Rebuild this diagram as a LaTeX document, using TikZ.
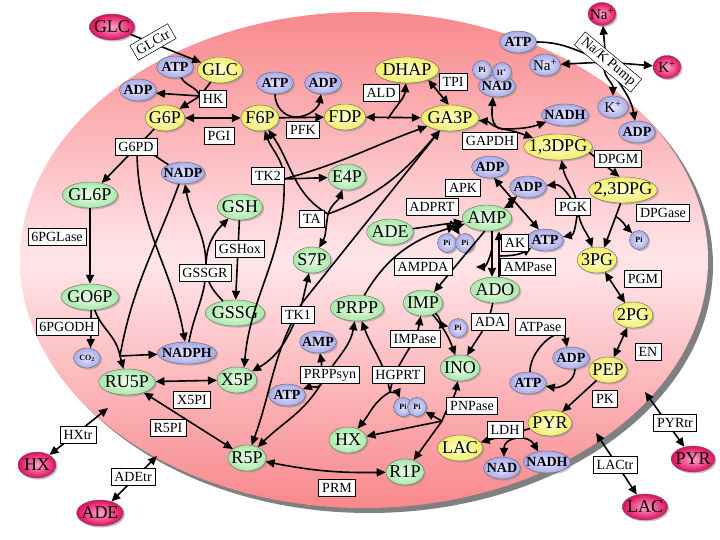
\documentclass[tikz,border=0pt]{standalone}
\usepackage{fontspec}
\setmainfont{Liberation Serif}
\usetikzlibrary{shapes.geometric, arrows.meta, shadows}

\definecolor{cellEdge}{RGB}{248,136,140}
\definecolor{cellMid}{RGB}{255,230,233}
\definecolor{glyIn}{RGB}{255,255,215}
\definecolor{glyOut}{RGB}{242,238,105}
\definecolor{grnIn}{RGB}{238,255,238}
\definecolor{grnOut}{RGB}{168,232,168}
\definecolor{cofIn}{RGB}{232,232,255}
\definecolor{cofOut}{RGB}{168,170,232}
\definecolor{extIn}{RGB}{255,165,205}
\definecolor{extOut}{RGB}{222,12,92}

\begin{document}
\begin{tikzpicture}[x=1pt, y=-1pt,
  met/.style={ellipse, draw=black!60, line width=0.4pt, inner xsep=-2pt, inner ysep=0pt,
    minimum width=38pt, minimum height=26pt, font=\fontsize{18}{18}\selectfont,
    drop shadow={shadow xshift=1.6pt, shadow yshift=-1.6pt, fill=black!45}},
  gly/.style={met, inner color=glyIn, outer color=glyOut},
  pp/.style={met, inner color=grnIn, outer color=grnOut},
  ext/.style={met, inner color=extIn, outer color=extOut},
  extsm/.style={ext, minimum width=28pt, minimum height=23pt, font=\fontsize{15}{15}\selectfont},
  cof/.style={met, inner xsep=-4pt, minimum width=37pt, minimum height=22pt,
    font=\bfseries\fontsize{14}{14}\selectfont, inner color=cofIn, outer color=cofOut},
  ion/.style={cof, minimum width=31pt, font=\fontsize{15}{15}\selectfont},
  pi/.style={cof, circle, inner sep=0pt, minimum size=19pt, font=\bfseries\fontsize{8}{8}\selectfont},
  enz/.style={draw, rectangle, fill=white, line width=0.5pt, inner xsep=3.5pt, inner ysep=1pt,
    minimum height=17pt, font=\fontsize{14}{14}\selectfont},
  link/.style={line width=1.6pt},
  arrow/.style={link, -{Triangle[length=9pt,width=8pt]}},
  darrow/.style={link, {Triangle[length=9pt,width=8pt]}-{Triangle[length=9pt,width=8pt]}}
]
\useasboundingbox (0,0) rectangle (720,540);

% cell
\fill[black!50] (369,265) ellipse [x radius=344, y radius=248];
\shade[top color=cellEdge, bottom color=cellEdge, middle color=cellMid] (364,260) ellipse [x radius=344, y radius=248];

% outside
\node[ext] (GLCo) at (112,27) {GLC};
\node[extsm] (NAo) at (602,14) {Na\textsuperscript{+}};
\node[extsm] (Ko) at (667,67) {K\textsuperscript{+}};
\node[ext] (HXo) at (37,465) {HX};
\node[ext] (ADEo) at (100,513) {ADE};
\node[ext] (PYRo) at (693,459) {PYR};
\node[ext] (LACo) at (645,507) {LAC};

% glycolysis
\node[gly] (GLC) at (220,70) {GLC};
\node[gly] (G6P) at (165,118) {G6P};
\node[gly] (F6P) at (260,118) {F6P};
\node[gly] (FDP) at (345,117) {FDP};
\node[gly] (DHAP) at (407,70) {DHAP};
\node[gly] (GA3P) at (450,118) {GA3P};
\node[gly, inner xsep=-5pt] (DPG13) at (558,147) {1,3DPG};
\node[gly, inner xsep=-5pt] (DPG23) at (623,190) {2,3DPG};
\node[gly] (PG3) at (597,260) {3PG};
\node[gly] (PG2) at (633,315) {2PG};
\node[gly] (PEP) at (608,370) {PEP};
\node[gly] (PYR) at (550,423) {PYR};
\node[gly] (LAC) at (460,448) {LAC};

% pentose, glutathione, nucleotides
\node[pp] (GL6P) at (90,195) {GL6P};
\node[pp] (GO6P) at (90,297) {GO6P};
\node[pp] (RU5P) at (127,382) {RU5P};
\node[pp] (X5P) at (237,380) {X5P};
\node[pp] (R5P) at (247,458) {R5P};
\node[pp] (R1P) at (405,472) {R1P};
\node[pp] (GSH) at (240,207) {GSH};
\node[pp] (GSSG) at (235,313) {GSSG};
\node[pp] (E4P) at (347,177) {E4P};
\node[pp] (S7P) at (312,260) {S7P};
\node[pp] (ADE) at (390,232) {ADE};
\node[pp] (PRPP) at (357,308) {PRPP};
\node[pp] (AMP) at (487,218) {AMP};
\node[pp] (IMP) at (423,303) {IMP};
\node[pp] (ADO) at (495,290) {ADO};
\node[pp] (INO) at (460,368) {INO};
\node[pp] (HX) at (348,440) {HX};

% cofactors
\node[cof] (ATPa) at (175,67) {ATP};
\node[cof] (ADPa) at (138,90) {ADP};
\node[cof] (NADP) at (183,173) {NADP};
\node[cof] (ATPb) at (275,83) {ATP};
\node[cof] (ADPb) at (323,83) {ADP};
\node[cof] (ATPc) at (518,42) {ATP};
\node[ion] (NAi) at (545,65) {Na\textsuperscript{+}};
\node[ion] (Ki) at (613,107) {K\textsuperscript{+}};
\node[cof] (ADPc) at (637,132) {ADP};
\node[cof] (NAD) at (497,86) {NAD};
\node[pi] (PiA) at (482,70) {Pi};
\node[pi] (Hp) at (502,72) {H\textsuperscript{+}};
\node[cof] (NADH) at (565,115) {NADH};
\node[cof] (ADPd) at (490,167) {ADP};
\node[cof] (ADPe) at (528,187) {ADP};
\node[cof] (ATPd) at (545,240) {ATP};
\node[pi] (PiB) at (639,240) {Pi};
\node[pi] (PiC1) at (447,243) {Pi};
\node[pi] (PiC2) at (465,243) {Pi};
\node[pi] (PiD) at (458,328) {Pi};
\node[cof, minimum width=27pt, minimum height=20pt, font=\bfseries\fontsize{8}{8}\selectfont] (CO2) at (87,358) {CO\textsubscript{2}};
\node[cof] (NADPH) at (187,353) {NADPH};
\node[cof] (AMPb) at (318,342) {AMP};
\node[cof] (ATPe) at (287,395) {ATP};
\node[cof] (ADPf) at (571,358) {ADP};
\node[cof] (ATPf) at (528,383) {ATP};
\node[pi] (PiE1) at (403,407) {Pi};
\node[pi] (PiE2) at (417,407) {Pi};
\node[cof] (NADb) at (502,468) {NAD};
\node[cof] (NADHb) at (547,462) {NADH};

% reaction points and free ends
\coordinate (hxin) at (108,408);
\coordinate (adein) at (157,456);
\coordinate (pyrin) at (645,392);
\coordinate (lacin) at (596,433);
\coordinate (pumppt) at (606,62);
\coordinate (hkpt) at (200,96);
\coordinate (pfkpt) at (296,117);
\coordinate (aldpt) at (388,119);
\coordinate (gappt) at (503,129);
\coordinate (pgkpt) at (578,210);
\coordinate (g6pdpt) at (137,150);
\coordinate (pgodhpt) at (120,356);
\coordinate (gssgrpt) at (206,266);
\coordinate (tktwopt) at (284,179);
\coordinate (tapt) at (328,214);
\coordinate (tkonept) at (302,303);
\coordinate (prspt) at (322,382);
\coordinate (hgpt) at (390,392);
\coordinate (pnppt) at (442,421);
\coordinate (adprtpt) at (451,221);
\coordinate (akpt) at (499,256);
\coordinate (ampasept) at (492,248);
\coordinate (nhthree) at (476,267);

% transport
\draw[arrow] (GLCo) -- (GLC);
\draw[darrow] (HXo) -- (hxin);
\draw[darrow] (ADEo) -- (adein);
\draw[darrow] (PYRo) -- (pyrin);
\draw[darrow] (LACo) -- (lacin);
\draw[link] (ATPc) to[out=0,in=160] (pumppt);
\draw[arrow] (pumppt) -- (NAo);
\draw[arrow] (pumppt) -- (Ko);
\draw[arrow] (pumppt) -- (NAi);
\draw[arrow] (pumppt) to[out=-120,in=90] (Ki);
\draw[arrow] (pumppt) to[out=-60,in=100] (ADPc);

% glycolysis
\draw[link] (ATPa) to[out=-60,in=110] (hkpt);
\draw[link] (GLC) -- (hkpt);
\draw[arrow] (hkpt) -- (ADPa.-10);
\draw[arrow] (hkpt) -- (G6P);
\draw[darrow] (G6P) -- (F6P);
\draw[arrow] (F6P) -- (FDP);
\draw[arrow] (ATPb) to[out=-90,in=180] (pfkpt) to[out=0,in=-100] (ADPb);
\draw[darrow] (FDP) -- (GA3P);
\draw[arrow] (aldpt) to[out=60,in=-95] (DHAP);
\draw[darrow] (DHAP.-25) -- (GA3P.95);
\draw[darrow] (GA3P) to[out=-5,in=170] (gappt) to[out=-10,in=160] (DPG13);
\draw[darrow] (NAD.-110) to[out=-95,in=180] (gappt) to[out=0,in=200] (NADH);
\draw[arrow] (DPG13.-10) -- (DPG23.105);
\draw[darrow] (DPG13.-75) to[out=-80,in=95] (pgkpt) to[out=-85,in=110] (PG3);
\draw[darrow] (ADPe) to[out=5,in=120] (pgkpt) to[out=-100,in=10] (ATPd);
\draw[arrow] (DPG23.-100) -- coordinate[pos=0.3] (dpgasept) (PG3.60);
\draw[arrow] (dpgasept) to[out=-30,in=135] (PiB);
\draw[darrow] (PG3) -- (PG2);
\draw[darrow] (PG2) -- (PEP);
\draw[arrow] (PEP) -- (PYR);
\draw[arrow] (ADPf.-70) to[out=-90,in=-10] (ATPf.-10);
\draw[arrow] (ATPf.80) to[out=90,in=100,looseness=1.4] (ADPf.110);
\draw[arrow] (PYR) -- (LAC);
\draw[darrow] (NADb.80) to[out=90,in=120,looseness=1.5] (NADHb.130);

% pentose phosphate pathway and glutathione
\draw[arrow] (G6P) -- (GL6P);
\draw[arrow] (NADP) to[out=150,in=0] (g6pdpt) to[out=-90,in=100] (NADPH);
\draw[arrow] (GL6P) -- (GO6P);
\draw[link] (GO6P) to[out=-70,in=100] (pgodhpt);
\draw[link] (NADP) to[out=-110,in=80] (pgodhpt);
\draw[arrow] (pgodhpt) -- (RU5P);
\draw[arrow] (pgodhpt) -- (NADPH);
\draw[arrow] (GO6P.-85) -- (CO2.70);
\draw[arrow] (GSH) -- (GSSG);
\draw[arrow] (GSSG) to[out=135,in=-90] (gssgrpt) to[out=90,in=-135] (GSH);
\draw[arrow] (NADPH) to[out=80,in=-90] (gssgrpt) to[out=90,in=-80] (NADP);
\draw[darrow] (RU5P) -- (X5P);
\draw[darrow] (RU5P) -- (R5P);
\draw[darrow] (R5P) to[bend right=6] (R1P);
\draw[darrow] (X5P.60) to[out=85,in=-88] (tktwopt) to[out=92,in=-70] (F6P);
\draw[arrow] (tktwopt) to[out=15,in=200] (GA3P);
\draw[arrow] (tktwopt) -- (E4P);
\draw[arrow] (tapt) to[out=150,in=-55] (F6P);
\draw[arrow] (tapt) to[out=70,in=-110] (E4P);
\draw[arrow] (tapt) to[out=-100,in=60] (S7P);
\draw[arrow] (tapt) to[out=20,in=-130] (GA3P);
\draw[arrow] (tkonept) -- (S7P);
\draw[arrow] (tkonept) -- (GA3P);
\draw[arrow] (tkonept) to[out=-110,in=30] (X5P);
\draw[arrow] (tkonept) to[out=-120,in=70] (R5P);

% nucleotides
\draw[darrow] (PRPP) to[out=-100,in=60] (prspt) to[out=-120,in=45] (R5P);
\draw[darrow] (AMPb) to[out=-80,in=100] (prspt) to[out=-100,in=20] (ATPe);
\draw[arrow] (hgpt) to[out=-150,in=50] (HX);
\draw[arrow] (hgpt) to[out=100,in=-70] (PRPP);
\draw[arrow] (hgpt) to[out=80,in=-100] (IMP);
\draw[arrow] (hgpt) to[out=-10,in=110] (PiE1);
\draw[arrow] (IMP) to[out=-50,in=110] (INO);
\draw[arrow] (IMP.-40) to[out=-40,in=170] (PiD);
\draw[arrow] (ADO) to[out=-100,in=60] (INO);
\draw[arrow] (pnppt) to[out=70,in=-100] (INO);
\draw[arrow] (pnppt) -- (HX);
\draw[arrow] (pnppt) -- (R1P);
\draw[arrow] (pnppt) -- (PiE2);
\draw[arrow] (ADE) -- (AMP);
\draw[arrow] (PRPP) to[out=60,in=195] (AMP);
\draw[arrow] (adprtpt) -- (PiC1);
\draw[arrow] (adprtpt) -- (PiC2);
\draw[arrow] (AMP.-100) -- (IMP.45);
\draw[darrow] (ADPd.-70) -- (ATPd.120);
\draw[darrow] (AMP) to[out=30,in=-140] (ADPe);
\draw[arrow] (492,0 |- AMP.south) -- (492,0 |- ADO.north);
\draw[arrow] (499,0 |- ADO.north) -- (499,0 |- AMP.south);
\draw[arrow] (akpt) to[out=0,in=-150] (ATPd);
\draw[arrow] (ampasept) to[out=-100,in=0] (nhthree);

% enzymes and transporters
\node[enz, rotate=30] (glctr) at (153,42) {GLCtr};
\node[enz] (hk) at (213,99) {HK};
\node[enz] (pgi) at (219,136) {PGI};
\node[enz] (g6pd) at (136,147) {G6PD};
\node[enz] (pfk) at (303,130) {PFK};
\node[enz] (ald) at (381,93) {ALD};
\node[enz] (tpi) at (453,82) {TPI};
\node[enz] (gapdh) at (490,141) {GAPDH};
\node[enz, rotate=-40] (nakpump) at (608,62) {Na/K Pump};
\node[enz] (dpgm) at (618,159) {DPGM};
\node[enz] (tktwo) at (268,176) {TK2};
\node[enz] (ta) at (312,219) {TA};
\node[enz] (dpgase) at (663,213) {DPGase};
\node[enz] (pglase) at (57,237) {6PGLase};
\node[enz] (gshox) at (240,249) {GSHox};
\node[enz] (gssgr) at (205,273) {GSSGR};
\node[enz] (adprt) at (432,207) {ADPRT};
\node[enz] (apk) at (463,188) {APK};
\node[enz] (pgk) at (573,207) {PGK};
\node[enz] (ak) at (515,243) {AK};
\node[enz] (ampase) at (528,267) {AMPase};
\node[enz] (ampda) at (423,267) {AMPDA};
\node[enz] (pgm) at (643,279) {PGM};
\node[enz] (pgodh) at (67,327) {6PGODH};
\node[enz] (tkone) at (298,315) {TK1};
\node[enz] (ada) at (490,322) {ADA};
\node[enz] (atpase) at (540,327) {ATPase};
\node[enz] (en) at (648,352) {EN};
\node[enz] (impase) at (415,339) {IMPase};
\node[enz] (prppsyn) at (330,375) {PRPPsyn};
\node[enz] (hgprt) at (398,375) {HGPRT};
\node[enz] (pnpase) at (472,406) {PNPase};
\node[enz] (pk) at (605,399) {PK};
\node[enz] (xfpi) at (192,400) {X5PI};
\node[enz] (rfpi) at (168,428) {R5PI};
\node[enz] (hxtr) at (78,435) {HXtr};
\node[enz] (ldh) at (505,430) {LDH};
\node[enz] (pyrtr) at (675,423) {PYRtr};
\node[enz] (lactr) at (615,465) {LACtr};
\node[enz] (adetr) at (133,477) {ADEtr};
\node[enz] (prm) at (337,488) {PRM};
\end{tikzpicture}
\end{document}
